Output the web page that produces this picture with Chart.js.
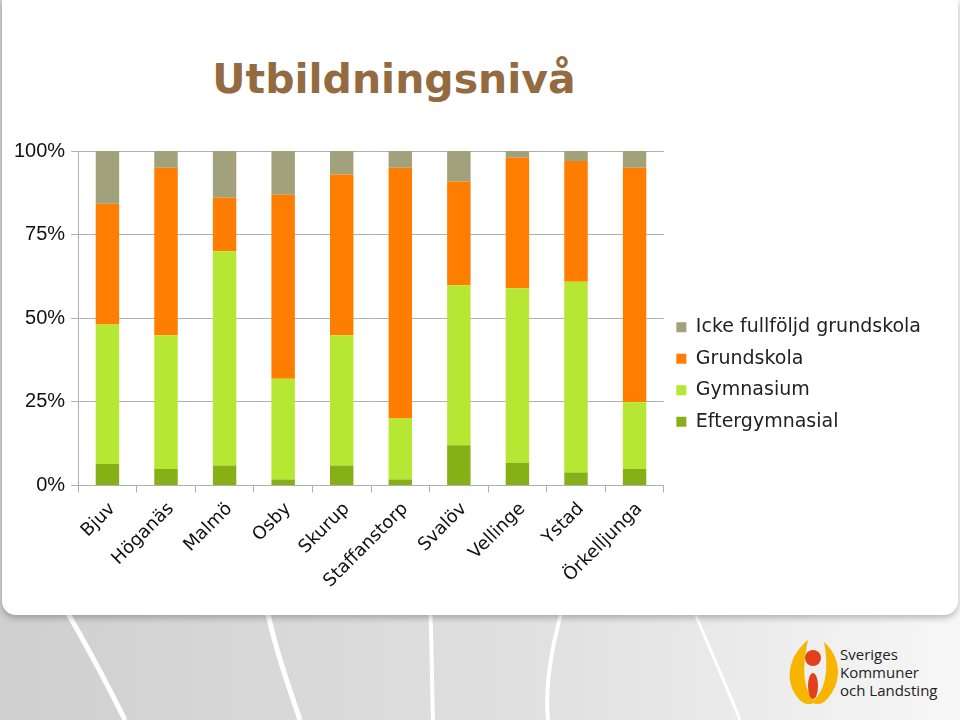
<!DOCTYPE html>
<html>
<head>
<meta charset="utf-8">
<script src="https://cdn.jsdelivr.net/npm/chart.js@4"></script>
<style>
  html, body { margin: 0; padding: 0; }
  body {
    width: 960px; height: 720px; overflow: hidden; position: relative;
    background: linear-gradient(90deg, #cfcfcf 0%, #e2e2e2 60%, #f7f7f7 100%);
    font-family: "DejaVu Sans", sans-serif;
  }
  #deco { position: absolute; left: 0; top: 0; }
  #panel {
    position: absolute; left: 2px; top: 0; width: 956px; height: 615px;
    background: #fff; border-radius: 0 0 14px 14px;
    box-shadow: 0 3px 6px rgba(0,0,0,0.25);
  }
  #wrap { position: absolute; left: 0; top: 0; width: 960px; height: 615px; }
  h1 {
    position: absolute; left: 194px; top: 54px; width: 400px; margin: 0;
    text-align: center; font: bold 41px "DejaVu Sans", sans-serif;
    color: #946a40; line-height: 50px;
  }
  #logo { position: absolute; left: 780px; top: 636px; }
</style>
</head>
<body>
<!-- background curves -->
<svg id="deco" width="960" height="720">
  <path d="M60 600 C 90 650, 110 690, 125 720" stroke="#fff" stroke-width="5" fill="none"/>
  <path d="M265 600 C 275 650, 290 690, 300 720" stroke="#fff" stroke-width="5" fill="none"/>
  <path d="M430 600 C 432 650, 432 690, 433 720" stroke="#fff" stroke-width="4" fill="none"/>
  <path d="M565 600 C 550 650, 545 690, 548 720" stroke="#fff" stroke-width="4" fill="none"/>
  <path d="M690 600 C 705 640, 720 670, 740 720" stroke="#fff" stroke-width="3" fill="none"/>
</svg>
<div id="panel"></div>
<h1>Utbildningsnivå</h1>
<div id="wrap"><canvas id="eduChart"></canvas></div>
<svg id="logo" width="170" height="75">
  <path d="M28 4 C 8 20, 4 45, 18 62 C 22 68, 30 70, 36 66 C 26 58, 20 40, 28 4 Z" fill="#f7b500"/>
  <path d="M44 6 C 62 22, 62 46, 48 62 C 44 68, 36 70, 32 66 C 44 56, 50 38, 44 6 Z" fill="#f7b500"/>
  <circle cx="33" cy="22" r="8" fill="#e2401c"/>
  <ellipse cx="33" cy="50" rx="5" ry="13" fill="#e2401c"/>
  <text x="60" y="24" font-family="Open Sans, sans-serif" font-size="15" fill="#222">Sveriges</text>
  <text x="60" y="42" font-family="Open Sans, sans-serif" font-size="15" fill="#222">Kommuner</text>
  <text x="60" y="60" font-family="Open Sans, sans-serif" font-size="15" fill="#222">och Landsting</text>
</svg>
<script>
/* Data (percent of population) */
const kommuner = ["Bjuv", "Höganäs", "Malmö", "Osby", "Skurup",
  "Staffanstorp", "Svalöv", "Vellinge", "Ystad", "Örkelljunga"];
const eftergymnasial = [6.4, 4.9, 6.0, 1.8, 6.0, 1.8, 12.0, 6.8, 3.9, 4.9];
const gymnasium = [41.7, 40.0, 64.0, 30.1, 38.9, 18.2, 47.9, 52.2, 57.0, 20.0];
const grundskola = [36.1, 50.1, 16.0, 55.0, 48.1, 75.0, 31.0, 39.0, 36.1, 70.1];
const ickeFullfoljd = [15.8, 5.0, 14.0, 13.1, 7.0, 5.0, 9.1, 2.0, 3.0, 5.0];
const yTicks = [0, 25, 50, 75, 100];

const gridGrey = "#b0b0b0";

function makeSet(label, data, color) {
  return {
    label: label,
    data: data,
    backgroundColor: color,
    borderWidth: 0,
    categoryPercentage: 1,
    barPercentage: 0.4
  };
}

const ctx = document.getElementById("eduChart");
new Chart(ctx, {
  type: "bar",
  data: {
    labels: kommuner,
    datasets: [
      makeSet("Eftergymnasial", eftergymnasial, "#86b016"),
      makeSet("Gymnasium", gymnasium, "#b5e733"),
      makeSet("Grundskola", grundskola, "#ff7d00"),
      makeSet("Icke fullföljd grundskola", ickeFullfoljd, "#a1a17b")
    ]
  },
  options: {
    responsive: true,
    maintainAspectRatio: false,
    animation: false,
    layout: { padding: { left: 8, right: 29, top: 151, bottom: 17 } },
    plugins: {
      legend: {
        position: "right",
        reverse: true,
        maxWidth: 320,
        labels: {
          boxWidth: 10,
          boxHeight: 10,
          padding: 12.5,
          color: "#222",
          font: { family: "DejaVu Sans", size: 19 }
        }
      },
      tooltip: { enabled: false }
    },
    scales: {
      x: {
        stacked: true,
        grid: {
          display: true,
          drawOnChartArea: false,
          drawTicks: true,
          tickLength: 7,
          color: gridGrey,
          offset: true
        },
        border: { display: true, color: gridGrey },
        ticks: {
          maxRotation: 45,
          minRotation: 45,
          padding: 6,
          labelOffset: 5,
          color: "#111",
          font: { family: "DejaVu Sans", size: 18 }
        }
      },
      y: {
        stacked: true,
        min: 0,
        max: 100,
        afterBuildTicks: axis => { axis.ticks = yTicks.map(v => ({ value: v })); },
        grid: { color: gridGrey, tickLength: 7 },
        border: { display: true, color: gridGrey },
        ticks: {
          color: "#111",
          padding: 6,
          font: { family: "Liberation Sans", size: 20 },
          callback: v => v + "%"
        }
      }
    }
  }
});
</script>
</body>
</html>
